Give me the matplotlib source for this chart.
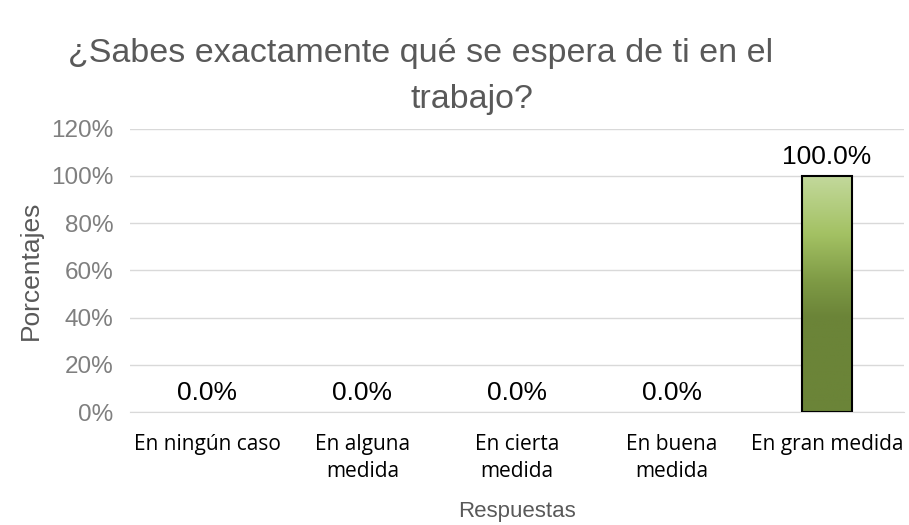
import numpy as np
import matplotlib.pyplot as plt
from matplotlib.colors import LinearSegmentedColormap

categorias = ["En ningún caso", "En alguna\nmedida", "En cierta\nmedida", "En buena\nmedida", "En gran medida"]
valores = [0.0, 0.0, 0.0, 0.0, 100.0]
yticks = [0, 20, 40, 60, 80, 100, 120]

fig = plt.figure(figsize=(9.09, 5.25), dpi=100)
ax = fig.add_axes([0.143, 0.215, 0.852, 0.54])

x = np.arange(len(categorias))
bordes = ["black" if v > 0 else "none" for v in valores]
barras = ax.bar(x, valores, width=0.32, color="none", edgecolor=bordes, linewidth=1.5, zorder=3)

# degradado verde de cada barra
cmap = LinearSegmentedColormap.from_list("verde", [(0, "#6b8438"), (0.4, "#6b8438"), (0.55, "#7e9a45"), (0.75, "#a3c163"), (1, "#c3d99c")])
grad = np.linspace(0, 1, 256).reshape(-1, 1)
for b in barras:
    if b.get_height() > 0:
        xx, yy = b.get_x(), b.get_y()
        im = ax.imshow(grad, cmap=cmap, origin="lower", aspect="auto",
                       extent=[xx, xx + b.get_width(), yy, yy + b.get_height()], zorder=2)
        im.set_clip_path(b)

for xi, v in zip(x, valores):
    ax.text(xi, v + 3, f"{v:.1f}%", ha="center", va="bottom", fontsize=19,
            family="Liberation Sans", color="black")

ax.set_xlim(-0.5, len(categorias) - 0.5)
ax.set_ylim(0, 120)
ax.set_yticks(yticks)
ax.set_yticklabels([f"{t}%" for t in yticks], fontsize=17.5, color="#7f7f7f", family="Liberation Sans")
ax.set_xticks(x)
ax.set_xticklabels(categorias, fontsize=15, family="Open Sans", color="black", linespacing=1.35)
ax.tick_params(length=0)
ax.tick_params(axis="x", pad=16)
ax.tick_params(axis="y", pad=12)
ax.grid(axis="y", color="#d9d9d9", linewidth=1, zorder=0)
for s in ["top", "right", "left"]:
    ax.spines[s].set_visible(False)
ax.spines["bottom"].set_color("#d9d9d9")
ax.set_axisbelow(True)

ax.set_ylabel("Porcentajes", fontsize=19, color="#595959", family="Liberation Sans", labelpad=6)
ax.set_xlabel("Respuestas", fontsize=16, color="#595959", family="Liberation Sans", labelpad=14)

fig.text(0.463, 0.898, "¿Sabes exactamente qué se espera de ti en el", ha="center", va="center",
         fontsize=24.5, color="#595959", family="Liberation Sans")
fig.text(0.519, 0.81, "trabajo?", ha="center", va="center",
         fontsize=24.5, color="#595959", family="Liberation Sans")

fig.savefig("out.png", dpi=100)
